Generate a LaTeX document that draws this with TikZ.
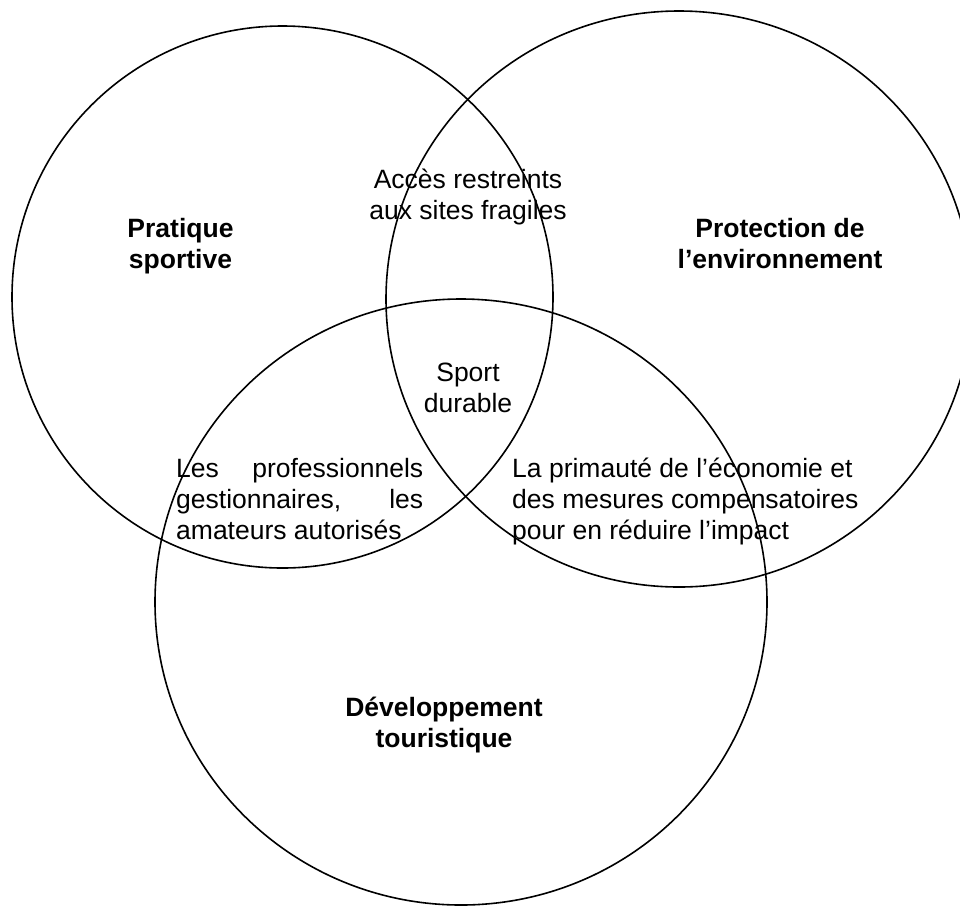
\documentclass[tikz,border=0pt]{standalone}
\usepackage{fontspec}
\setmainfont{Liberation Sans}
\begin{document}
\begin{tikzpicture}[x=1pt,y=-1pt,
  circ/.style={draw=black, line width=1.6pt},
  lbl/.style={inner sep=0pt, anchor=base, align=center, font=\fontsize{26.5}{31}\selectfont},
  blbl/.style={lbl, font=\fontsize{26.5}{31}\selectfont\bfseries},
  para/.style={inner sep=0pt, anchor=base west, align=left, font=\fontsize{26.5}{31}\selectfont}]
\useasboundingbox (0,0) rectangle (960,906);
\draw[circ] (282.5,297) ellipse [x radius=270.5pt, y radius=271pt];
\draw[circ] (679,299) ellipse [x radius=293pt, y radius=288pt];
\draw[circ] (461,602) ellipse [x radius=306pt, y radius=303pt];
\node[blbl] (sport) at (180.5,268) {Pratique\\sportive};
\node[blbl] (env) at (780,268) {Protection de\\l’environnement};
\node[blbl] (dev) at (444,747) {Développement\\touristique};
\node[lbl] (acces) at (468,219) {Accès restreints\\aux sites fragiles};
\node[lbl] (durable) at (468,412) {Sport\\durable};
\node[para] (pros) at (176,539) {\makebox[247pt][s]{Les professionnels}\\\makebox[247pt][s]{gestionnaires, les}\\amateurs autorisés};
\node[para] (eco) at (512,539) {La primauté de l’économie et\\des mesures compensatoires\\pour en réduire l’impact};
\end{tikzpicture}
\end{document}
